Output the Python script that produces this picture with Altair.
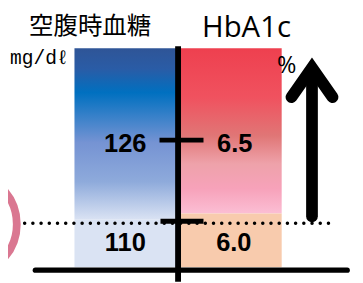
import altair as alt
import pandas as pd

# Threshold values shown in the chart
glucose_thresholds = [126, 110]      # mg/dl
hba1c_thresholds = ["6.5", "6.0"]    # %
glucose_labels = ["126", "110"]
titles = ["空腹時血糖", "HbA1c"]
units = ["mg/dℓ", "%"]

W, H = 355, 275
# vertical scale in glucose units (126 and 110 are 83 px apart)
K = 16 / 83
def lvl(py):
    return 126 + (140 - py) * K

Y_DOM = [lvl(283), lvl(8)]
xs = alt.Scale(domain=[8, 8 + W], nice=False, zero=False)
ys = alt.Scale(domain=Y_DOM, nice=False, zero=False)
X = lambda f: alt.X(f, type="quantitative", scale=xs, axis=None)
Y = lambda f: alt.Y(f, type="quantitative", scale=ys, axis=None)


def grad(stops):
    return alt.LinearGradient(
        gradient="linear",
        stops=[alt.GradientStop(color=c, offset=o) for o, c in stops],
        x1=0, x2=0, y1=0, y2=1,
    )

top, bottom = lvl(46), lvl(270)
blue_split, red_split = lvl(221), lvl(215)

blue_grad = alt.Chart(pd.DataFrame({"x": [76], "x2": [180], "y": [top], "y2": [blue_split]})).mark_rect(
    color=grad([(0, "#2f5597"), (0.12, "#2a5ca6"), (0.26, "#0070c0"), (0.55, "#7593d3"), (0.78, "#8eaadb"), (1, "#d9e2f3")])
).encode(x=X("x"), x2="x2", y=Y("y"), y2="y2")
blue_low = alt.Chart(pd.DataFrame({"x": [76], "x2": [180], "y": [blue_split], "y2": [bottom]})).mark_rect(
    color="#dae3f3").encode(x=X("x"), x2="x2", y=Y("y"), y2="y2")
red_grad = alt.Chart(pd.DataFrame({"x": [183], "x2": [288], "y": [top], "y2": [red_split]})).mark_rect(
    color=grad([(0, "#ee404f"), (0.3, "#f0525f"), (0.53, "#e07676"), (0.7, "#eea2aa"), (0.85, "#f7a2ba"), (1, "#fbbed4")])
).encode(x=X("x"), x2="x2", y=Y("y"), y2="y2")
orange = alt.Chart(pd.DataFrame({"x": [183], "x2": [288], "y": [red_split], "y2": [bottom]})).mark_rect(
    color="#f8cbad").encode(x=X("x"), x2="x2", y=Y("y"), y2="y2")

ring = alt.Chart(pd.DataFrame({"x": [-35], "y": [lvl(226)]})).mark_point(
    shape="circle", filled=False, size=10816, strokeWidth=8, color="#d4607e", opacity=0.85, clip=False
).encode(x=X("x"), y=Y("y"))

dotted = alt.Chart(pd.DataFrame({"x": [25], "x2": [340], "y": [lvl(225)]})).mark_rule(
    color="black", strokeWidth=3.5, strokeDash=[0.1, 8.3], strokeCap="round"
).encode(x=X("x"), x2="x2", y=Y("y"))

vline = alt.Chart(pd.DataFrame({"x": [182], "y": [lvl(44)], "y2": [lvl(285)]})).mark_rule(
    color="black", strokeWidth=6, clip=False
).encode(x=X("x"), y=Y("y"), y2="y2")

base = alt.Chart(pd.DataFrame({"x": [36], "x2": [355], "y": [lvl(273)]})).mark_rule(
    color="black", strokeWidth=5.5, strokeCap="round"
).encode(x=X("x"), x2="x2", y=Y("y"))

ticks = alt.Chart(pd.DataFrame({"x": [163, 164], "x2": [208, 208], "y": glucose_thresholds})).mark_rule(
    color="black", strokeWidth=5
).encode(x=X("x"), x2="x2", y=Y("y"))

lab_y = [lvl(144), lvl(245)]
glab = alt.Chart(pd.DataFrame({"x": [128, 128], "y": lab_y, "t": glucose_labels})).mark_text(
    font="Liberation Sans", fontWeight="bold", fontSize=26, baseline="middle", align="center", color="black"
).encode(x=X("x"), y=Y("y"), text="t:N")
hlab = alt.Chart(pd.DataFrame({"x": [240, 239], "y": lab_y, "t": hba1c_thresholds})).mark_text(
    font="Liberation Sans", fontWeight="bold", fontSize=26, baseline="middle", align="center", color="black"
).encode(x=X("x"), y=Y("y"), text="t:N")

t1 = alt.Chart(pd.DataFrame({"x": [92], "y": [lvl(31)], "t": [titles[0]]})).mark_text(
    font="Noto Sans CJK JP", fontSize=25, baseline="alphabetic", align="center", color="black"
).encode(x=X("x"), y=Y("y"), text="t:N")
t2 = alt.Chart(pd.DataFrame({"x": [252], "y": [lvl(35)], "t": [titles[1]]})).mark_text(
    font="Open Sans", fontSize=30, baseline="alphabetic", align="center", color="black"
).encode(x=X("x"), y=Y("y"), text="t:N")
u1 = alt.Chart(pd.DataFrame({"x": [40], "y": [lvl(56)], "t": [units[0]]})).mark_text(
    font="Liberation Mono", fontSize=20, baseline="middle", align="center", color="black"
).encode(x=X("x"), y=Y("y"), text="t:N")
u2 = alt.Chart(pd.DataFrame({"x": [293], "y": [lvl(64)], "t": [units[1]]})).mark_text(
    font="Open Sans", fontSize=24, baseline="middle", align="center", color="black"
).encode(x=X("x"), y=Y("y"), text="t:N")

shaft = alt.Chart(pd.DataFrame({"x": [319, 319], "y": [lvl(218), lvl(72)], "o": [0, 1]})).mark_line(
    color="black", strokeWidth=12, strokeCap="round"
).encode(x=X("x"), y=Y("y"), order="o:Q")
head = alt.Chart(pd.DataFrame({"x": [298, 319, 340], "y": [lvl(96), lvl(66), lvl(96)], "o": [0, 1, 2]})).mark_line(
    color="black", strokeWidth=12, strokeCap="round", strokeJoin="miter"
).encode(x=X("x"), y=Y("y"), order="o:Q")

chart = alt.layer(
    ring, blue_grad, blue_low, red_grad, orange, dotted, vline, base, ticks,
    glab, hlab, t1, t2, u1, u2, shaft, head
).properties(width=W, height=H, padding=0, autosize=alt.AutoSizeParams(type="none")).configure_view(stroke=None)

chart.save("out.html", embed_options={"renderer": "svg", "actions": False})
